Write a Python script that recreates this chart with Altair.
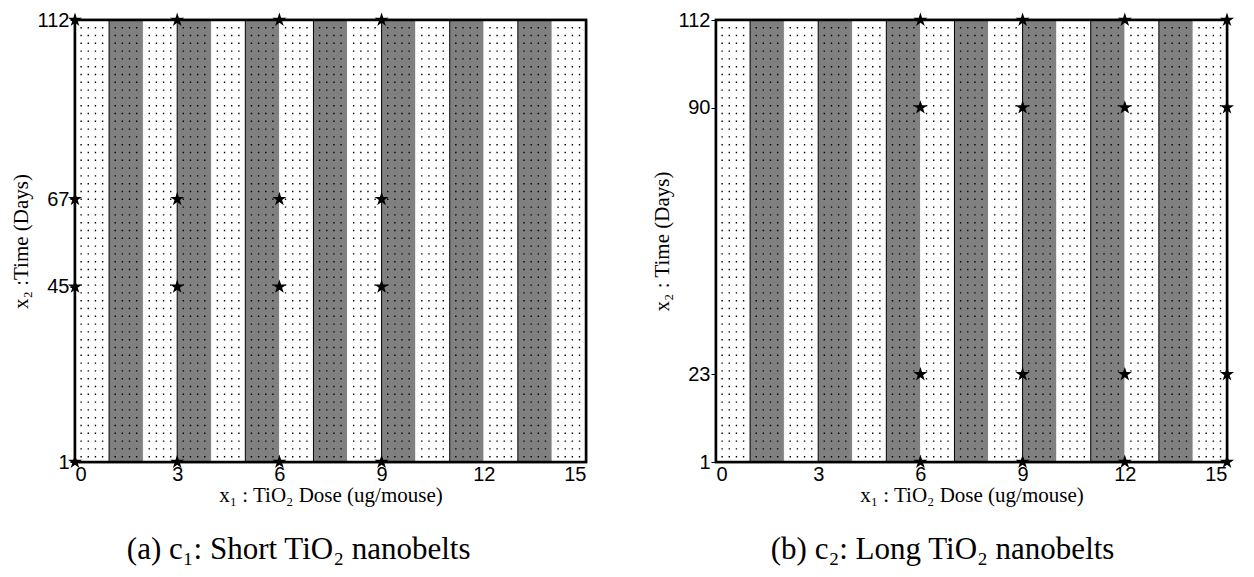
import altair as alt
import pandas as pd

# ---- data ----
x_ticks = [0, 3, 6, 9, 12, 15]
dose_domain = [0, 15]
stripe_starts = list(range(15))
stripe_kind = ["dot" if i % 2 == 0 else "gray" for i in stripe_starts]
dot_offsets = [0.18, 0.39, 0.6, 0.81]
time_domain = [1, 112]

a_doses = [0, 3, 6, 9]
a_times = [1, 45, 67, 112]
b_doses = [6, 9, 12, 15]
b_times = [1, 23, 90, 112]

W, H = 511, 442
SERIF = "Liberation Serif"
SANS = "Liberation Sans"

# five-pointed star glyph in the unit square (Vega custom symbol shape)
STAR = ("M0,-1L0.2245,-0.309L0.951,-0.309L0.3633,0.118L0.588,0.809L0,0.382"
        "L-0.588,0.809L-0.3633,0.118L-0.951,-0.309L-0.2245,-0.309Z")


def panel(doses, times, ytitle, caption):
    stripes = pd.DataFrame({
        "s0": stripe_starts,
        "s1": [s + 1 for s in stripe_starts],
        "t0": [time_domain[0]] * len(stripe_starts),
        "t1": [time_domain[1]] * len(stripe_starts),
        "kind": stripe_kind,
    })
    dots = pd.DataFrame({"dx": [s + o for s in stripe_starts for o in dot_offsets]})
    dots["t0"] = time_domain[0]
    dots["t1"] = time_domain[1]
    box = pd.DataFrame({"f0": [dose_domain[0]], "f1": [dose_domain[1]],
                        "g0": [time_domain[0]], "g1": [time_domain[1]]})
    pts = pd.DataFrame([(d, t) for d in doses for t in times], columns=["dose", "time"])
    xscale = alt.Scale(domain=dose_domain, nice=False, zero=False)
    yscale = alt.Scale(domain=time_domain, nice=False, zero=False)

    rects = alt.Chart(stripes).mark_rect(strokeWidth=1).encode(
        x=alt.X("s0:Q", scale=xscale),
        x2="s1:Q",
        y=alt.Y("t0:Q", scale=yscale),
        y2="t1:Q",
        fill=alt.Fill("kind:N", scale=alt.Scale(domain=["dot", "gray"], range=["white", "#808080"]), legend=None),
        stroke=alt.Stroke("kind:N", scale=alt.Scale(domain=["dot", "gray"], range=["white", "black"]), legend=None),
    )

    dotted = alt.Chart(dots).mark_rule(
        color="black", strokeWidth=1.4, strokeDash=[1.4, 6.4], strokeDashOffset=0.8
    ).encode(
        x=alt.X("dx:Q", scale=xscale),
        y=alt.Y("t1:Q", scale=yscale),
        y2="t0:Q",
    )

    frame = alt.Chart(box).mark_rect(fillOpacity=0, stroke="black", strokeWidth=2.5).encode(
        x=alt.X("f0:Q", scale=xscale),
        x2="f1:Q",
        y=alt.Y("g0:Q", scale=yscale),
        y2="g1:Q",
    )

    stars = alt.Chart(pts).mark_point(shape=STAR, filled=True, color="black", size=220, opacity=1).encode(
        x=alt.X("dose:Q", scale=xscale, axis=alt.Axis(
            values=x_ticks, title="x₁ : TiO₂ Dose (ug/mouse)", grid=False,
            ticks=False, domain=False, labelFont=SANS, labelFontSize=20, labelColor="black",
            labelPadding=2, titleFont=SERIF, titleFontSize=21, titleFontWeight="normal",
            titleColor="black", titlePadding=0)),
        y=alt.Y("time:Q", scale=yscale, axis=alt.Axis(
            values=times, title=ytitle, grid=False, ticks=True, tickSize=5,
            tickColor="black", tickWidth=1, domain=False, labelFont=SANS, labelFontSize=20,
            labelColor="black", labelPadding=1, titleFont=SERIF, titleFontSize=21,
            titleFontWeight="normal", titleColor="black", titlePadding=6)),
    )

    return alt.layer(rects, dotted, frame, stars).properties(
        width=W, height=H,
        view=alt.ViewBackground(stroke="black", strokeWidth=2.5),
        title=alt.TitleParams(caption, orient="bottom", font=SERIF, fontSize=31,
                              fontWeight="normal", color="black", offset=30, frame="bounds"),
    )


left = panel(a_doses, a_times, "x₂ :Time (Days)", "(a) c₁: Short TiO₂ nanobelts")
right = panel(b_doses, b_times, "x₂ : Time (Days)", "(b) c₂: Long TiO₂ nanobelts")

chart = alt.hconcat(left, right, spacing=60).configure_view(
    stroke="black", strokeWidth=2.5
).properties(background="white", padding={"left": 0, "top": 0, "right": 0, "bottom": 0})

chart.save("out.html", embed_options={"renderer": "svg", "actions": False})
